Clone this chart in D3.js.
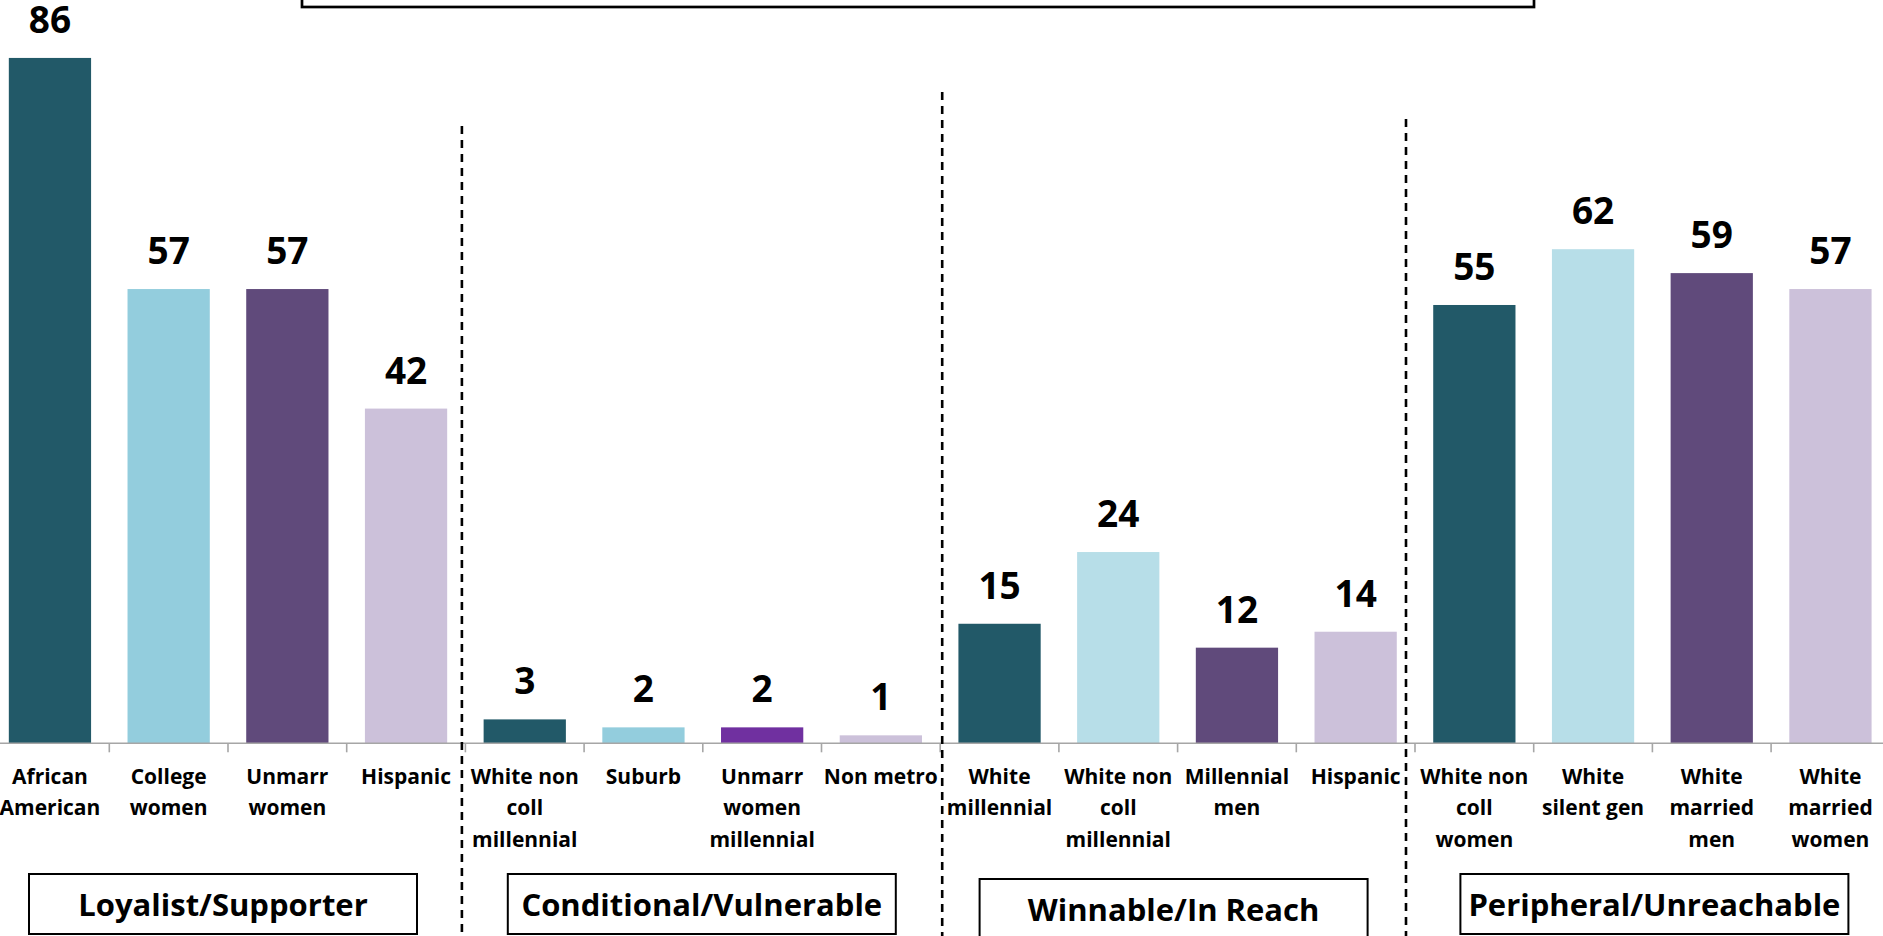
<!DOCTYPE html>
<html>
<head>
<meta charset="utf-8">
<script src="https://cdn.jsdelivr.net/npm/d3@7"></script>
<style>
  html, body { margin: 0; padding: 0; background: #fff; overflow: hidden; }
  svg { display: block; }
  text { font-family: "Open Sans", "DejaVu Sans", sans-serif; font-weight: 700; fill: #000; }
</style>
</head>
<body>
<svg id="chart" width="1883" height="936"></svg>
<script>
// Segment names (line breaks as shown under each bar)
const categories = [
  "African|American", "College|women", "Unmarr|women", "Hispanic",
  "White non|coll|millennial", "Suburb", "Unmarr|women|millennial", "Non metro",
  "White|millennial", "White non|coll|millennial", "Millennial|men", "Hispanic",
  "White non|coll|women", "White|silent gen", "White|married|men", "White|married|women"
];

// Share per segment
const values = [86, 57, 57, 42, 3, 2, 2, 1, 15, 24, 12, 14, 55, 62, 59, 57];

// Bar fills
const barColors = [
  "#225968", "#93cddd", "#604a7b", "#ccc1da",
  "#225968", "#93cddd", "#7030a0", "#ccc1da",
  "#225968", "#b7dee8", "#604a7b", "#ccc1da",
  "#225968", "#b7dee8", "#604a7b", "#ccc1da"
];

// Voter groups, four segments each
const groups = ["Loyalist/Supporter", "Conditional/Vulnerable", "Winnable/In Reach", "Peripheral/Unreachable"];
const groupSize = 4;

const W = 1883, H = 936;
const baseY = 743.3;

const svg = d3.select("#chart");

const x = d3.scaleBand()
  .domain(d3.range(categories.length))
  .range([-9.4, 1889.8])
  .paddingInner(0.307)
  .paddingOuter(0.1535);

const y = d3.scaleLinear().domain([0, 93.27]).range([baseY, 0]);

const step = x.step();
const bandStart = i => x(i) - x.paddingOuter() * step - (i === 0 ? 0 : 0);
// category boundaries (left edge of each slot)
const edge = i => x.range()[0] + i * step;

// title frame running off the top edge
svg.append("rect")
  .attr("x", 302).attr("y", -40)
  .attr("width", 1232).attr("height", 47)
  .attr("fill", "none").attr("stroke", "#000").attr("stroke-width", 2.7);

// bars
svg.append("g").selectAll("rect")
  .data(values)
  .join("rect")
  .attr("x", (d, i) => x(i))
  .attr("width", x.bandwidth())
  .attr("y", d => y(d))
  .attr("height", d => y(0) - y(d))
  .attr("fill", (d, i) => barColors[i]);

// value labels
svg.append("g").selectAll("text")
  .data(values)
  .join("text")
  .attr("x", (d, i) => x(i) + x.bandwidth() / 2)
  .attr("y", d => y(d) - 25)
  .attr("text-anchor", "middle")
  .style("font-size", "37px")
  .text(d => d);

// category axis: baseline plus ticks between slots
const axisG = svg.append("g");
axisG.append("line")
  .attr("x1", 0).attr("x2", W)
  .attr("y1", baseY).attr("y2", baseY)
  .attr("stroke", "#a6a6a6").attr("stroke-width", 1.6);
axisG.selectAll("line.tick")
  .data(d3.range(categories.length + 1))
  .join("line")
  .attr("class", "tick")
  .attr("x1", i => edge(i)).attr("x2", i => edge(i))
  .attr("y1", baseY).attr("y2", baseY + 9)
  .attr("stroke", "#a6a6a6").attr("stroke-width", 1.6);

// category labels
const labelG = svg.append("g");
categories.forEach((c, i) => {
  const t = labelG.append("text")
    .attr("text-anchor", "middle")
    .attr("x", x(i) + x.bandwidth() / 2)
    .attr("y", 784)
    .style("font-size", "21px");
  c.split("|").forEach((line, k) => {
    t.append("tspan")
      .attr("x", x(i) + x.bandwidth() / 2)
      .attr("y", 784 + k * 31.4)
      .text(line);
  });
});

// dashed dividers between groups
const dividerTop = [126, 92, 119];
const dividerNudge = [-3.5, 2, -9];
svg.append("g").selectAll("line")
  .data(d3.range(1, groups.length))
  .join("line")
  .attr("x1", g => edge(g * groupSize) + dividerNudge[g - 1])
  .attr("x2", g => edge(g * groupSize) + dividerNudge[g - 1])
  .attr("y1", g => dividerTop[g - 1])
  .attr("y2", H)
  .attr("stroke", "#000").attr("stroke-width", 2.6)
  .attr("stroke-dasharray", "8,6");

// group name boxes
const boxW = 388, boxH = 60;
const boxDrop = [0, 0, 5, 0];
const boxNudge = [-5, -1, -4, 2];
const boxG = svg.append("g");
groups.forEach((g, k) => {
  const cx = (edge(k * groupSize) + edge((k + 1) * groupSize)) / 2 + boxNudge[k];
  const top = 874 + boxDrop[k];
  boxG.append("rect")
    .attr("x", cx - boxW / 2).attr("y", top)
    .attr("width", boxW).attr("height", boxH)
    .attr("fill", "#fff").attr("stroke", "#000").attr("stroke-width", 2);
  boxG.append("text")
    .attr("x", cx).attr("y", top + 42)
    .attr("text-anchor", "middle")
    .style("font-size", "31px")
    .text(g);
});
</script>
</body>
</html>
